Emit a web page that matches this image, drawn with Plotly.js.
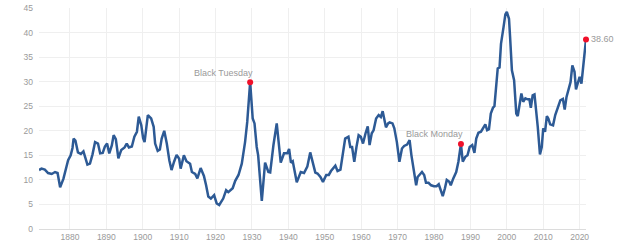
<!DOCTYPE html>
<html>
<head>
<meta charset="utf-8">
<script src="https://cdn.plot.ly/plotly-3.0.1.min.js"></script>
<style>
  html, body { margin: 0; padding: 0; background: #ffffff; }
  #chart { width: 624px; height: 245px; }
</style>
</head>
<body>
<div id="chart"></div>
<script>
// Shiller PE ratio (CAPE), decimal years and values
const years = [
  1871.5, 1872.2, 1873.1, 1874.0, 1875.0, 1875.9, 1876.6, 1877.3, 1878.2, 1878.9,
  1879.5, 1880.2, 1880.7, 1881.0, 1881.5, 1882.2, 1883.0, 1883.7, 1884.3, 1884.8,
  1885.5, 1886.2, 1886.9, 1887.7, 1888.3, 1889.0, 1889.6, 1890.2, 1890.8, 1891.5,
  1892.0, 1892.6, 1893.3, 1894.1, 1895.0, 1895.6, 1896.2, 1897.0, 1897.7, 1898.4,
  1898.9, 1899.6, 1900.1, 1900.5, 1901.0, 1901.4, 1902.3, 1903.0, 1903.4, 1904.1,
  1904.7, 1905.2, 1905.9, 1906.6, 1907.3, 1907.9, 1908.6, 1909.3, 1910.0, 1910.4,
  1911.3, 1912.0, 1913.0, 1913.5, 1914.4, 1915.0, 1915.9, 1916.8, 1917.4, 1918.0,
  1918.7, 1919.6, 1920.3, 1921.0, 1922.1, 1922.9, 1923.5, 1924.7, 1925.4, 1926.3,
  1927.2, 1928.1, 1928.7, 1929.5, 1930.2, 1930.7, 1931.3, 1931.7, 1932.7, 1933.6,
  1934.5, 1935.0, 1935.9, 1936.8, 1937.9, 1938.8, 1939.7, 1940.2, 1940.7, 1941.2,
  1942.3, 1943.4, 1944.3, 1945.2, 1946.0, 1946.7, 1947.4, 1948.0, 1948.8, 1949.5,
  1950.4, 1951.1, 1951.7, 1952.9, 1953.5, 1954.3, 1955.1, 1955.6, 1956.5, 1957.0,
  1957.5, 1958.1, 1958.7, 1959.3, 1959.9, 1960.5, 1961.2, 1961.8, 1962.3, 1962.9,
  1963.4, 1964.1, 1964.8, 1965.4, 1965.9, 1966.4, 1966.8, 1967.4, 1967.8, 1968.6,
  1969.1, 1969.8, 1970.5, 1971.2, 1971.8, 1972.6, 1973.3, 1973.8, 1974.6, 1975.1,
  1975.5, 1976.0, 1976.7, 1977.3, 1977.8, 1978.5, 1979.2, 1980.0, 1980.7, 1981.3,
  1981.9, 1982.4, 1983.0, 1983.5, 1984.2, 1984.6, 1985.3, 1986.1, 1986.7, 1987.4,
  1987.9, 1988.6, 1989.2, 1989.8, 1990.5, 1991.1, 1991.6, 1992.2, 1992.9, 1993.5,
  1994.1, 1994.6, 1995.1, 1995.6, 1996.2, 1996.6, 1997.1, 1997.5, 1998.0, 1998.4,
  1999.1, 1999.6, 2000.0, 2000.6, 2000.9, 2001.4, 2002.0, 2002.6, 2003.0, 2003.5,
  2004.0, 2004.5, 2005.1, 2005.7, 2006.2, 2006.6, 2007.1, 2007.6, 2008.0, 2008.5,
  2009.1, 2009.6, 2010.0, 2010.5, 2011.0, 2011.4, 2011.9, 2012.7, 2013.3, 2014.0,
  2014.7, 2015.4, 2015.9, 2016.4, 2017.0, 2017.5, 2018.0, 2018.6, 2019.0, 2019.4,
  2020.0, 2020.5, 2021.1, 2021.75
];
const peValues = [
  12.0, 12.3, 12.1, 11.4, 11.2, 11.6, 11.4, 8.5, 10.2, 12.3,
  14.0, 15.0, 16.5, 18.4, 18.0, 15.6, 15.3, 15.8, 14.5, 13.1,
  13.3, 15.2, 17.7, 17.4, 15.4, 15.5, 16.8, 17.4, 15.4, 17.0,
  19.1, 18.3, 14.4, 16.1, 16.6, 17.4, 16.6, 16.8, 18.8, 19.8,
  22.9, 21.1, 18.5, 17.7, 20.8, 23.2, 22.5, 20.8, 17.4, 15.9,
  16.2, 18.4, 20.0, 17.4, 14.0, 12.0, 13.7, 15.1, 14.3, 12.3,
  15.0, 13.8, 13.3, 11.6, 11.2, 10.3, 12.4, 10.8, 8.9, 6.6,
  6.2, 6.9, 5.2, 4.9, 6.2, 7.9, 7.5, 8.3, 9.8, 11.0,
  13.3, 17.7, 21.8, 29.9, 22.5, 21.5, 16.7, 15.0, 5.7, 13.5,
  11.6, 11.5, 17.1, 21.5, 13.5, 15.4, 15.4, 16.3, 13.5, 13.8,
  9.5, 11.6, 11.4, 12.7, 15.6, 13.4, 11.5, 11.3, 10.6, 9.6,
  11.0, 11.0, 11.8, 12.9, 11.8, 12.1, 15.5, 18.4, 18.8, 16.7,
  16.7, 13.7, 16.7, 19.1, 18.8, 17.4, 19.5, 20.9, 17.1, 19.5,
  20.1, 22.5, 23.2, 22.8, 24.0, 21.8, 20.7, 21.5, 21.7, 21.5,
  20.5, 17.7, 13.7, 16.4, 16.9, 17.2, 18.1, 15.0, 10.6, 8.9,
  10.6, 11.0, 11.6, 11.0, 9.4, 9.4, 8.9, 8.7, 8.7, 9.1,
  7.9, 6.7, 8.3, 10.0, 9.6, 8.9, 10.3, 11.6, 13.7, 17.3,
  13.7, 14.7, 15.0, 16.7, 17.1, 15.5, 18.4, 19.6, 19.8, 20.5,
  21.3, 20.1, 20.3, 23.5, 24.7, 25.0, 28.6, 32.7, 32.9, 37.7,
  41.1, 43.7, 44.2, 42.8, 39.1, 32.3, 30.3, 23.5, 23.0, 25.5,
  27.6, 25.9, 26.6, 26.4, 26.4, 24.7, 27.2, 27.4, 24.9, 20.8,
  15.2, 16.7, 20.5, 19.8, 23.0, 22.5, 21.3, 21.1, 23.2, 24.9,
  26.2, 26.5, 24.3, 26.9, 28.8, 29.9, 33.3, 32.0, 28.4, 29.6,
  31.0, 29.6, 34.7, 38.6
];

// Highlighted events
const eventYears  = [1929.5, 1987.4, 2021.75];
const eventValues = [29.9, 17.3, 38.6];
const eventLabels = ["Black Tuesday", "Black Monday", "38.60"];

// Axis ticks
const xTicks = [1880, 1890, 1900, 1910, 1920, 1930, 1940, 1950, 1960, 1970, 1980, 1990, 2000, 2010, 2020];
const yTicks = [0, 5, 10, 15, 20, 25, 30, 35, 40, 45];

const textFont = { family: "Liberation Sans, Arial, sans-serif", size: 8.5, color: "#9a9a9a" };

const traces = [
  {
    type: "scatter",
    mode: "lines",
    x: years,
    y: peValues,
    line: { color: "#2d5a95", width: 2.5 },
    hoverinfo: "x+y",
    cliponaxis: false
  },
  {
    type: "scatter",
    mode: "markers",
    x: eventYears,
    y: eventValues,
    marker: { color: "#f0102a", size: 6 },
    hoverinfo: "x+y",
    cliponaxis: false
  }
];

const annotations = [
  { x: eventYears[0], y: eventValues[0], text: eventLabels[0], xanchor: "right", yanchor: "middle", xshift: 5, yshift: 9 },
  { x: eventYears[1], y: eventValues[1], text: eventLabels[1], xanchor: "right", yanchor: "middle", xshift: 4, yshift: 10 },
  { x: eventYears[2], y: eventValues[2], text: eventLabels[2], xanchor: "left", yanchor: "middle", xshift: 3, yshift: 0 }
].map(a => Object.assign({ showarrow: false, font: Object.assign({}, textFont, { size: 9 }) }, a));

const layout = {
  width: 624,
  height: 245,
  margin: { l: 39, r: 38, t: 8, b: 16, pad: 0 },
  paper_bgcolor: "#ffffff",
  plot_bgcolor: "#ffffff",
  showlegend: false,
  font: textFont,
  xaxis: {
    range: [1871.5, 2021.75],
    tickmode: "array",
    tickvals: xTicks,
    ticktext: xTicks.map(String),
    showgrid: true,
    gridcolor: "#efefef",
    gridwidth: 1,
    zeroline: false,
    showline: true,
    linecolor: "#dcdcdc",
    linewidth: 1,
    ticks: "",
    tickfont: textFont,
    fixedrange: true
  },
  yaxis: {
    range: [0, 45],
    tickmode: "array",
    tickvals: yTicks,
    ticktext: yTicks.map(String),
    showgrid: true,
    gridcolor: "#efefef",
    gridwidth: 1,
    zeroline: false,
    showline: false,
    ticks: "",
    ticklabelstandoff: 5,
    tickfont: textFont,
    fixedrange: true
  },
  annotations: annotations
};

Plotly.newPlot("chart", traces, layout, { displayModeBar: false, staticPlot: true });
</script>
</body>
</html>
